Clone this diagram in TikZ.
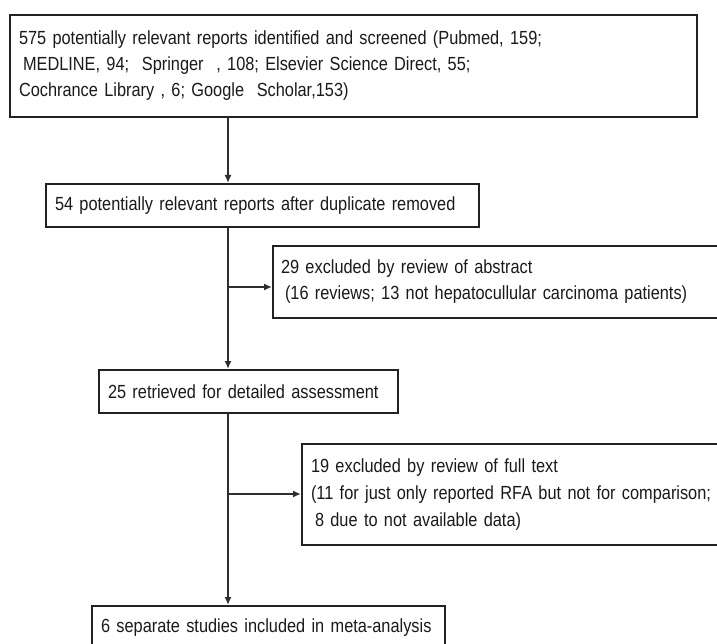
\documentclass[tikz,border=0pt]{standalone}
\usepackage{fontspec}
\setmainfont{Liberation Sans}[FakeStretch=0.86, WordSpace=0.72]
\usetikzlibrary{arrows.meta}
\definecolor{boxline}{HTML}{222222}
\definecolor{conn}{HTML}{2E2E2E}
\definecolor{txt}{HTML}{1A1A1A}
\tikzset{
  flowbox/.style={draw=boxline, line width=2pt, fill=white, align=left, anchor=north west,
    inner xsep=9pt, inner ysep=0pt, text=txt, font=\fontsize{19}{26}\selectfont},
  conline/.style={draw=conn, line width=1.7pt},
  conarrow/.style={conline, -{Latex[length=8pt,width=7pt]}}
}
\begin{document}
\begin{tikzpicture}[x=1pt,y=-1pt]
\useasboundingbox (0,0) rectangle (717,644);
\clip (0,0) rectangle (717,644);
\fill[white] (0,0) rectangle (717,644);
\coordinate (t) at (228,0);
\node[flowbox, text width=669pt, minimum height=102pt] (b1) at (9,14)
  {\mbox{575 potentially relevant reports identified and screened (Pubmed, 159;}\\
   \mbox{\hspace*{4pt}MEDLINE, 94;\ \ Springer\ \ , 108; Elsevier Science Direct, 55;}\\
   \mbox{Cochrance Library , 6; Google\ \ Scholar,153)}};
\node[flowbox, text width=415pt, minimum height=43pt] (b2) at (45,183)
  {\mbox{54 potentially relevant reports after duplicate removed}};
\node[flowbox, inner xsep=8pt, text width=434pt, minimum height=72pt] (b3) at (272,245)
  {\mbox{29 excluded by review of abstract}\\
   \mbox{\hspace*{4pt}(16 reviews; 13 not hepatocullular carcinoma patients)}};
\node[flowbox, text width=281pt, minimum height=43pt] (b4) at (98,369)
  {\mbox{25 retrieved for detailed assessment}};
\node[flowbox, text width=403pt, minimum height=101pt, font=\fontsize{19}{27}\selectfont] (b5) at (301,443)
  {\mbox{19 excluded by review of full text}\\
   \mbox{(11 for just only reported RFA but not for comparison;}\\
   \mbox{\hspace*{4pt}8 due to not available data)}};
\node[flowbox, text width=335pt, minimum height=44pt] (b6) at (91,605)
  {\mbox{6 separate studies included in meta-analysis}};
\coordinate (j1) at (228,287);
\coordinate (j2) at (228,494);
\draw[conarrow] (b1.south -| t) -- (b2.north -| t);
\draw[conarrow] (b2.south -| t) -- (b4.north -| t);
\draw[conarrow] (b4.south -| t) -- (b6.north -| t);
\draw[conarrow] (j1) -- (j1 -| b3.west);
\draw[conarrow] (j2) -- (j2 -| b5.west);
\end{tikzpicture}
\end{document}
